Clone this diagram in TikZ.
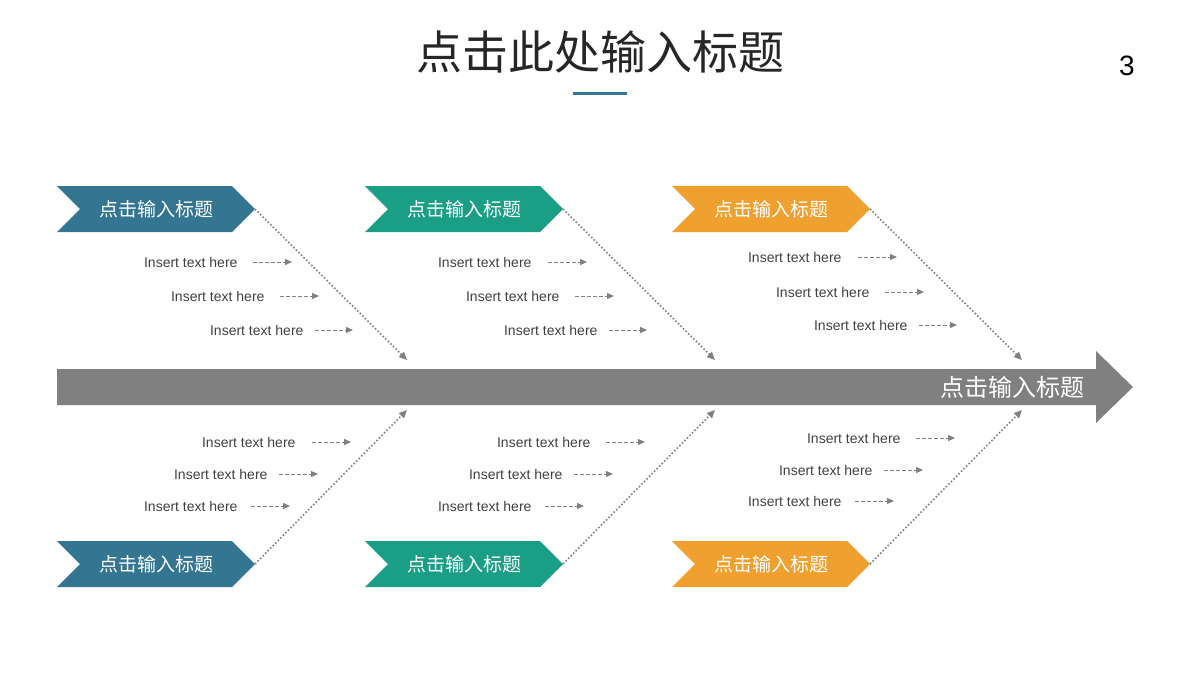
\documentclass[tikz,border=0pt]{standalone}
\usepackage{fontspec}
\setmainfont{Liberation Sans}
\newfontfamily\cjk{Noto Sans CJK SC}
\usetikzlibrary{arrows.meta}
\definecolor{fbBlue}{HTML}{347691}
\definecolor{fbGreen}{HTML}{1A9E86}
\definecolor{fbOrange}{HTML}{F0A02F}
\definecolor{fbGray}{HTML}{808080}
\tikzset{
  chev/.style={fill=#1,draw=none},
  chevtext/.style={text=white,font=\cjk\fontsize{19}{19}\selectfont},
  bone/.style={fbGray,line width=1.6pt,dotted,-{Triangle[length=8pt,width=7pt]}},
  item/.style={anchor=east,text=black!75,font=\fontsize{14}{14}\selectfont},
  tick/.style={fbGray,line width=1pt,dash pattern=on 4pt off 2pt,-{Triangle[length=7pt,width=6pt]}}
}
\begin{document}
\begin{tikzpicture}[x=1pt,y=-1pt]
  \useasboundingbox (0,0) rectangle (1200,675);
  % title
  \node[font=\cjk\fontsize{46}{46}\selectfont,text=black!85] (title) at (600,52) {点击此处输入标题};
  \draw[fbBlue,line width=3pt] (573,93) -- (627,93);
  \node[font=\fontsize{28}{28}\selectfont] (page) at (1127,66) {3};
  % spine
  \fill[fbGray] (57,369) -- (1096,369) -- (1096,351) -- (1133,387) -- (1096,423) -- (1096,405) -- (57,405) -- cycle;
  \node[anchor=east,chevtext,font=\cjk\fontsize{24}{24}\selectfont] (head) at (1088,387) {点击输入标题};
  % chevrons and bones
  \foreach \dx/\c [count=\i] in {0/fbBlue,308/fbGreen,615/fbOrange}{
    \begin{scope}[xshift=\dx]
      \fill[chev=\c] (57,186) -- (232,186) -- (255,209) -- (232,232) -- (57,232) -- (80,209) -- cycle;
      \node[chevtext] (top\i) at (156,209) {点击输入标题};
      \coordinate (ta\i) at (255,209);
      \coordinate (tb\i) at (407,360);
      \draw[bone] (ta\i) -- (tb\i);
      \fill[chev=\c] (57,541) -- (232,541) -- (255,564) -- (232,587) -- (57,587) -- (80,564) -- cycle;
      \node[chevtext] (bot\i) at (156,564) {点击输入标题};
      \coordinate (ba\i) at (255,564);
      \coordinate (bb\i) at (407,410);
      \draw[bone] (ba\i) -- (bb\i);
    \end{scope}
  }
  % items
  \foreach \x/\y/\a/\b [count=\k] in {
      241/262/253/292, 268/296/280/319, 307/330/315/353,
      535/262/548/587, 563/296/575/614, 601/330/609/647,
      845/257/858/897, 873/292/885/924, 911/325/919/957,
      299/442/312/351, 271/474/279/318, 241/506/251/290,
      594/442/606/645, 566/474/574/613, 535/506/545/584,
      904/438/916/955, 876/470/884/923, 845/501/855/894}{
    \node[item] (it\k) at (\x,\y) {Insert text here};
    \coordinate (s\k) at (\a,\y);
    \coordinate (e\k) at (\b,\y);
    \draw[tick] (s\k) -- (e\k);
  }
\end{tikzpicture}
\end{document}
